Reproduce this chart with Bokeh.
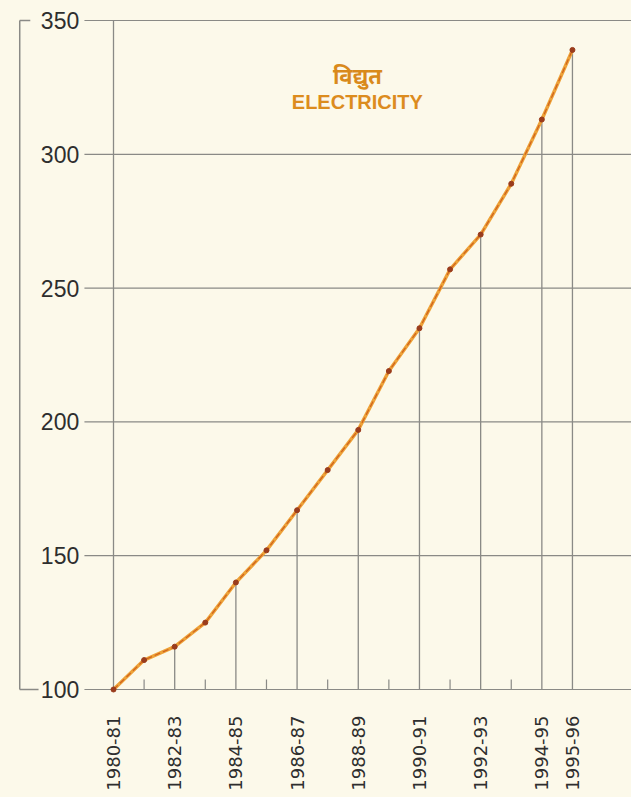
import math
from bokeh.plotting import figure
from bokeh.models import FixedTicker, ColumnDataSource, LabelSet
from bokeh.core.properties import value
from bokeh.embed import file_html
from bokeh.resources import INLINE

# ---- data ----
years = ["1980-81", "1981-82", "1982-83", "1983-84", "1984-85", "1985-86",
         "1986-87", "1987-88", "1988-89", "1989-90", "1990-91", "1991-92",
         "1992-93", "1993-94", "1994-95", "1995-96"]
electricity = [100, 111, 116, 125, 140, 152, 167, 182, 197, 219, 235, 257,
               270, 289, 313, 339]
labelled_years = ["1980-81", "1982-83", "1984-85", "1986-87", "1988-89",
                  "1990-91", "1992-93", "1994-95", "1995-96"]
y_ticks = [100, 150, 200, 250, 300, 350]
title_hi = "विद्युत"
title_en = "ELECTRICITY"

BG = "#fcf9ea"
LINE_GREY = "#8a8a86"
TEXT_GREY = "#2e2e2e"
ORANGE = "#eda238"
DARK = "#9a3c1c"

xi = list(range(len(years)))
x_start, x_end = -3.105, 16.93
y_start, y_end = 95.516, 356.726

p = figure(width=631, height=797, output_backend="svg", toolbar_location=None,
           x_range=(x_start, x_end), y_range=(y_start, y_end),
           min_border_left=18, min_border_right=0, min_border_top=2,
           min_border_bottom=96)
p.background_fill_color = BG
p.border_fill_color = BG
p.outline_line_color = None
p.grid.visible = False
p.yaxis.visible = False

# x axis (labels only; base line and ticks are drawn at y = 100 below)
ax = p.xaxis[0]
lab_idx = [years.index(y) for y in labelled_years]
minor_idx = [i for i in xi if i not in lab_idx]
ax.ticker = FixedTicker(ticks=lab_idx)
ax.major_label_overrides = {i: years[i] for i in lab_idx}
ax.major_label_orientation = math.pi / 2
ax.major_label_standoff = 8
ax.major_label_text_font = "DejaVu Sans"
ax.major_label_text_font_size = "18px"
ax.major_label_text_color = TEXT_GREY
ax.axis_line_color = None
ax.major_tick_line_color = None
ax.minor_tick_line_color = None

base = y_ticks[0]
tick_len = 3.7  # data units (~10px)
p.segment(x0=minor_idx, y0=[base] * len(minor_idx), x1=minor_idx,
          y1=[base + tick_len] * len(minor_idx), line_color=LINE_GREY, line_width=1.2)

# horizontal rules at y ticks (start right of their labels)
gx0 = -0.95
p.segment(x0=[gx0] * len(y_ticks), y0=y_ticks, x1=[x_end] * len(y_ticks), y1=y_ticks,
          line_color=LINE_GREY, line_width=1.2)
# left bracket
lx = x_start + 0.04
p.segment(x0=[lx], y0=[y_ticks[0]], x1=[lx], y1=[y_ticks[-1]], line_color=LINE_GREY, line_width=1.5)
p.segment(x0=[lx, lx], y0=[y_ticks[0], y_ticks[-1]], x1=[-2.45, -2.72], y1=[y_ticks[0], y_ticks[-1]],
          line_color=LINE_GREY, line_width=1.5)
# y tick labels
ysrc = ColumnDataSource(dict(x=[-1.12] * len(y_ticks), y=y_ticks, t=[str(v) for v in y_ticks]))
p.add_layout(LabelSet(x="x", y="y", text="t", source=ysrc, text_align="right",
                      text_baseline="middle", text_font=value("Liberation Sans"),
                      text_font_size=value("23px"), text_color=TEXT_GREY))

# drop lines for labelled years (first one spans full height)
drop_x = lab_idx
drop_top = [y_ticks[-1] if i == 0 else electricity[i] for i in lab_idx]
p.segment(x0=drop_x, y0=[base] * len(drop_x), x1=drop_x, y1=drop_top,
          line_color=LINE_GREY, line_width=1.3)

# series
src = ColumnDataSource(dict(x=xi, y=electricity))
p.line("x", "y", source=src, line_color=ORANGE, line_width=3.5)
p.line("x", "y", source=src, line_color="#d0621e", line_width=1.2, line_dash="6 3")
p.scatter("x", "y", source=src, size=5, fill_color=DARK, line_color=DARK)

# title
p.text(x=[7.97], y=[329.5], text=[title_hi], text_align="center", text_baseline="middle",
       text_font=value("Noto Sans"), text_font_size="22px", text_font_style="bold",
       text_color="#d98a1c")
p.text(x=[7.97], y=[319.4], text=[title_en], text_align="center", text_baseline="middle",
       text_font=value("Liberation Sans"), text_font_size="20px", text_font_style="bold",
       text_color="#dc8c1e")

html = file_html(p, INLINE)
html = html.replace("<head>", "<head><style>body{background:%s;}</style>" % BG, 1)
open("out.html", "w").write(html)
